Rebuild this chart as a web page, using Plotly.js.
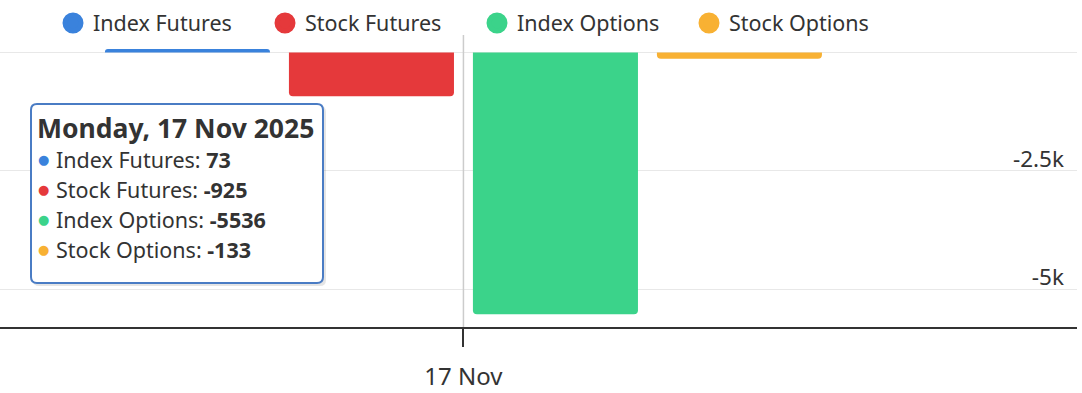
<!DOCTYPE html>
<html>
<head>
<meta charset="utf-8">
<script src="https://cdn.plot.ly/plotly-3.0.1.min.js"></script>
<style>html,body{margin:0;padding:0;background:#fff;}#chart{width:1082px;height:393px;}</style>
</head>
<body>
<div id="chart"></div>
<script>
// ---- data ----
const categories = ['17 Nov'];
const tooltipDate = 'Monday, 17 Nov 2025';
const seriesNames = ['Index Futures', 'Stock Futures', 'Index Options', 'Stock Options'];
const indexFutures = [73];
const stockFutures = [-925];
const indexOptions = [-5536];
const stockOptions = [-133];
const yTickVals = [-2500, -5000];
const yTickText = ['-2.5k', '-5k'];

const seriesValues = [indexFutures, stockFutures, indexOptions, stockOptions];
const colors = ['#3a82dc', '#e5393b', '#3bd38a', '#f8b133'];
const FONT = '"Noto Sans", "Open Sans", sans-serif';
const TXT = '#333333';

// plot-area pixel geometry helpers (for overlay tooltip)
const M = {l: 0, r: 5, t: 35, b: 66};
const PW = 1082 - M.l - M.r, PH = 393 - M.t - M.b;
const X = px => (px - M.l) / PW;
const Y = py => (393 - M.b - py) / PH;

const traces = [];
seriesNames.forEach((name, i) => {
  traces.push({
    type: 'bar', name: name, x: categories, y: seriesValues[i],
    marker: {color: colors[i], cornerradius: 4},
    legendgroup: name, showlegend: false, hoverinfo: 'none'
  });
});
seriesNames.forEach((name, i) => {
  traces.push({
    type: 'scatter', mode: 'markers', name: name, x: [null], y: [null],
    marker: {color: colors[i], size: 16, symbol: 'circle', line: {color: colors[i], width: 5}},
    legendgroup: name, showlegend: true, hoverinfo: 'none'
  });
});

// tooltip overlay
function roundRect(x0, y0, x1, y1, r) {
  const rx = r / PW, ry = r / PH;
  const a = X(x0), b = X(x1), top = Y(y0), bot = Y(y1);
  return `M ${a + rx},${top} L ${b - rx},${top} Q ${b},${top} ${b},${top - ry} ` +
         `L ${b},${bot + ry} Q ${b},${bot} ${b - rx},${bot} L ${a + rx},${bot} ` +
         `Q ${a},${bot} ${a},${bot + ry} L ${a},${top - ry} Q ${a},${top} ${a + rx},${top} Z`;
}
const shapes = [
  {type: 'line', xref: 'x', yref: 'paper', x0: categories[0], x1: categories[0], y0: 0, y1: 1,
   line: {color: '#cccccc', width: 1.5}, layer: 'above'},
  {type: 'path', xref: 'paper', yref: 'paper', path: roundRect(33, 106, 326, 286, 6),
   fillcolor: 'rgba(0,0,0,0.10)', line: {width: 0}, layer: 'above'},
  {type: 'path', xref: 'paper', yref: 'paper', path: roundRect(31, 104, 323, 283, 6),
   fillcolor: '#ffffff', line: {color: '#4a7cc4', width: 2}, layer: 'above'}
];
const annotations = [
  {xref: 'paper', yref: 'paper', x: X(35), y: Y(128), xanchor: 'left', yanchor: 'middle',
   text: '<b>' + tooltipDate + '</b>', showarrow: false,
   font: {family: FONT, size: 26.5, color: TXT}}
];
seriesNames.forEach((name, i) => {
  const py = 159 + i * 30;
  annotations.push({xref: 'paper', yref: 'paper', x: X(43), y: Y(py), xanchor: 'center', yanchor: 'middle',
    text: '●', showarrow: false, font: {family: '"DejaVu Sans", sans-serif', size: 13, color: colors[i]}});
  annotations.push({xref: 'paper', yref: 'paper', x: X(54), y: Y(py), xanchor: 'left', yanchor: 'middle',
    text: name + ': <b>' + seriesValues[i][0] + '</b>', showarrow: false,
    font: {family: FONT, size: 21.5, color: TXT}});
});

const layout = {
  width: 1082, height: 393,
  margin: M,
  paper_bgcolor: '#ffffff', plot_bgcolor: '#ffffff',
  font: {family: FONT, color: TXT},
  barmode: 'group', bargap: 0.044, bargroupgap: 0.103,
  showlegend: true,
  legend: {orientation: 'h', x: X(53), xanchor: 'left', y: Y(23), yanchor: 'middle',
           font: {family: FONT, size: 21.5, color: TXT}, entrywidth: 167, entrywidthmode: 'pixels',
           bgcolor: 'rgba(0,0,0,0)'},
  xaxis: {type: 'category', range: [-0.602, 0.797], showgrid: false, zeroline: false,
          showline: true, linecolor: '#333333', linewidth: 2,
          ticks: 'outside', ticklen: 18, tickwidth: 2, tickcolor: '#333333',
          ticklabelstandoff: 9,
          tickfont: {family: FONT, size: 24, color: TXT}, fixedrange: true},
  yaxis: {range: [-5803, 370], side: 'right', tickvals: yTickVals, ticktext: yTickText,
          ticklabelposition: 'inside top', ticklabelstandoff: 10, ticklabelshift: 4,
          showgrid: true, gridcolor: '#e8e8e8', gridwidth: 1,
          zeroline: true, zerolinecolor: '#e8e8e8', zerolinewidth: 1, showline: false, ticks: '',
          tickfont: {family: FONT, size: 22.5, color: TXT}, fixedrange: true},
  shapes: shapes,
  annotations: annotations
};

Plotly.newPlot('chart', traces, layout, {displayModeBar: false, staticPlot: true});
</script>
</body>
</html>
